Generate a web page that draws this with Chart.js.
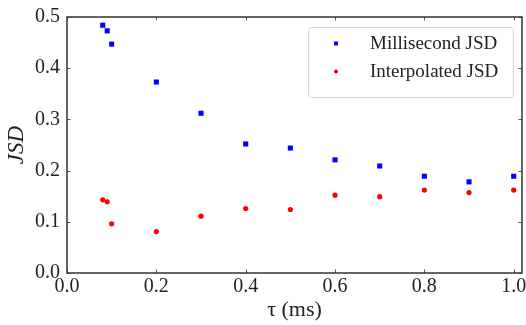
<!DOCTYPE html>
<html>
<head>
<meta charset="utf-8">
<script src="https://cdn.jsdelivr.net/npm/chart.js@4/dist/chart.umd.min.js"></script>
<style>
  html, body { margin: 0; padding: 0; background: #fff; }
  #wrap { width: 526px; height: 325px; }
</style>
</head>
<body>
<div id="wrap"><canvas id="myChart" width="526" height="325"></canvas></div>
<script>
// tau values (ms)
const tau = [0.08, 0.09, 0.1, 0.2, 0.3, 0.4, 0.5, 0.6, 0.7, 0.8, 0.9, 1.0];
const msJsd = [0.484, 0.473, 0.447, 0.373, 0.312, 0.252, 0.244, 0.221, 0.209, 0.189, 0.178, 0.189];
const interpJsd = [0.143, 0.139, 0.096, 0.081, 0.111, 0.126, 0.124, 0.152, 0.149, 0.162, 0.157, 0.162];

const xTicks = [0, 0.2, 0.4, 0.6, 0.8, 1.0];
const yTicks = [0, 0.1, 0.2, 0.3, 0.4, 0.5];

const serif = "'Liberation Serif', 'DejaVu Serif', serif";
const ctx = document.getElementById('myChart');

// frame + inward ticks on all four sides
const framePlugin = {
    id: 'frame',
    afterDatasetsDraw(chart) {
        const c = chart.ctx;
        const a = chart.chartArea;
        const xs = chart.scales.x, ys = chart.scales.y;
        c.save();
        c.strokeStyle = '#555';
        c.lineWidth = 1;
        c.beginPath();
        xTicks.forEach(v => {
            const px = Math.round(xs.getPixelForValue(v)) + 0.5;
            c.moveTo(px, a.bottom); c.lineTo(px, a.bottom - 3.5);
            c.moveTo(px, a.top); c.lineTo(px, a.top + 3.5);
        });
        yTicks.forEach(v => {
            const py = Math.round(ys.getPixelForValue(v)) + 0.5;
            c.moveTo(a.left, py); c.lineTo(a.left + 3.5, py);
            c.moveTo(a.right, py); c.lineTo(a.right - 3.5, py);
        });
        c.stroke();
        c.strokeStyle = '#333';
        c.lineWidth = 1.5;
        c.strokeRect(a.left, a.top, a.right - a.left, a.bottom - a.top);
        c.restore();
    }
};

// legend box in the upper right, like matplotlib
const legendPlugin = {
    id: 'boxLegend',
    afterDraw(chart) {
        const c = chart.ctx;
        const x0 = 308, y0 = 27, w = 205, h = 70;
        c.save();
        c.fillStyle = 'rgba(255,255,255,0.85)';
        c.strokeStyle = '#d5d5d5';
        c.lineWidth = 1;
        c.beginPath();
        c.roundRect(x0 + 0.5, y0 + 0.5, w, h, 3);
        c.fill();
        c.stroke();
        c.font = '19px ' + serif;
        c.textBaseline = 'middle';
        chart.data.datasets.forEach((ds, i) => {
            const cy = 43.5 + i * 28;
            c.fillStyle = ds.backgroundColor;
            c.beginPath();
            if (ds.pointStyle === 'rect') c.rect(334, cy - 2, 4, 4);
            else c.arc(336, cy, 2, 0, Math.PI * 2);
            c.fill();
            c.fillStyle = '#222';
            c.fillText(ds.label, 370, cy + 1);
        });
        c.restore();
    }
};

new Chart(ctx, {
    type: 'scatter',
    data: {
        datasets: [{
            label: 'Millisecond JSD',
            data: tau.map((t, i) => ({ x: t, y: msJsd[i] })),
            backgroundColor: '#0000ff',
            borderWidth: 0,
            pointStyle: 'rect',
            pointRadius: 3.6
        }, {
            label: 'Interpolated JSD',
            data: tau.map((t, i) => ({ x: t, y: interpJsd[i] })),
            backgroundColor: '#ff0000',
            borderWidth: 0,
            pointStyle: 'circle',
            pointRadius: 2.6
        }]
    },
    options: {
        responsive: false,
        animation: false,
        layout: { padding: { top: 17, right: 3, left: 0, bottom: 0 } },
        plugins: { legend: { display: false }, tooltip: { enabled: false } },
        scales: {
            x: {
                type: 'linear',
                min: 0,
                max: 1.0186,
                afterBuildTicks: s => { s.ticks = xTicks.map(v => ({ value: v })); },
                afterFit: s => { s.height = 52; s.paddingLeft = 0; s.paddingRight = 0; },
                grid: { display: false, drawTicks: false },
                border: { display: false },
                ticks: {
                    padding: 2,
                    color: '#222',
                    font: { family: serif, size: 20 },
                    callback: v => v.toFixed(1)
                },
                title: {
                    display: true,
                    text: 'τ (ms)',
                    color: '#222',
                    font: { family: serif, size: 22 },
                    padding: { top: 0, bottom: 2 }
                }
            },
            y: {
                min: 0,
                max: 0.5,
                afterBuildTicks: s => { s.ticks = yTicks.map(v => ({ value: v })); },
                afterFit: s => { s.width = 67; s.paddingTop = 0; s.paddingBottom = 0; },
                grid: { display: false, drawTicks: false },
                border: { display: false },
                ticks: {
                    padding: 7,
                    color: '#222',
                    font: { family: serif, size: 20 },
                    callback: v => v.toFixed(1)
                },
                title: {
                    display: true,
                    text: 'JSD',
                    color: '#222',
                    font: { family: serif, size: 23, style: 'italic' },
                    padding: { top: 3, bottom: 0 }
                }
            }
        }
    },
    plugins: [framePlugin, legendPlugin]
});
</script>
</body>
</html>
